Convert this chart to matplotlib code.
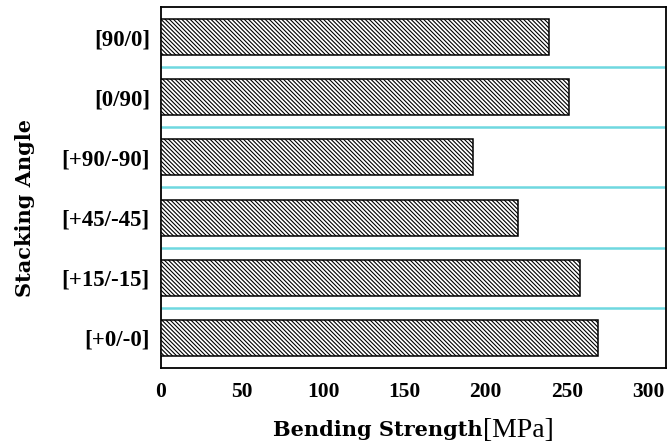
import matplotlib
matplotlib.use("Agg")
import matplotlib.pyplot as plt

# Stacking sequences (bottom to top) and their bending strength in MPa
stacking = ["[+0/-0]", "[+15/-15]", "[+45/-45]", "[+90/-90]", "[0/90]", "[90/0]"]
strength = [269, 258, 220, 192, 251, 239]
x_ticks = [0, 50, 100, 150, 200, 250, 300]

plt.rcParams["font.family"] = ["Liberation Serif", "DejaVu Serif"]
plt.rcParams["hatch.linewidth"] = 0.8

fig = plt.figure(figsize=(6.68, 4.48), dpi=100)
ax = fig.add_axes([161 / 668, 1 - 368 / 448, (666 - 161) / 668, (368 - 7) / 448])

pos = list(range(len(stacking)))
ax.barh(pos, strength, height=0.6, color="white", edgecolor="black",
        hatch="\\" * 8, linewidth=1.1, zorder=3)

# separators between the categories
for y in [p + 0.5 for p in pos[:-1]]:
    ax.axhline(y, color="#6fd8e0", linewidth=1.8, zorder=1)

ax.set_xlim(0, 311)
ax.set_ylim(-0.5, len(stacking) - 0.5)
ax.set_xticks(x_ticks)
ax.set_xticklabels([str(t) for t in x_ticks], fontsize=15.5, fontweight="bold")
ax.set_yticks(pos)
ax.set_yticklabels(stacking, fontsize=16.5, fontweight="bold")
ax.tick_params(axis="x", length=0, pad=10)
ax.tick_params(axis="y", length=0, pad=8)
for s in ax.spines.values():
    s.set_linewidth(1.3)

fig.text(25 / 668, 1 - 208 / 448, "Stacking Angle", rotation=90,
         fontsize=15, fontweight="bold", family="DejaVu Serif",
         ha="center", va="center")
split = 483 / 668
fig.text(split, 1 - 430 / 448, "Bending Strength", fontsize=15,
         fontweight="bold", family="DejaVu Serif", ha="right", va="center")
fig.text(split, 1 - 430 / 448, "[MPa]", fontsize=20, fontweight="normal",
         ha="left", va="center")

fig.savefig("out.png", dpi=100)
